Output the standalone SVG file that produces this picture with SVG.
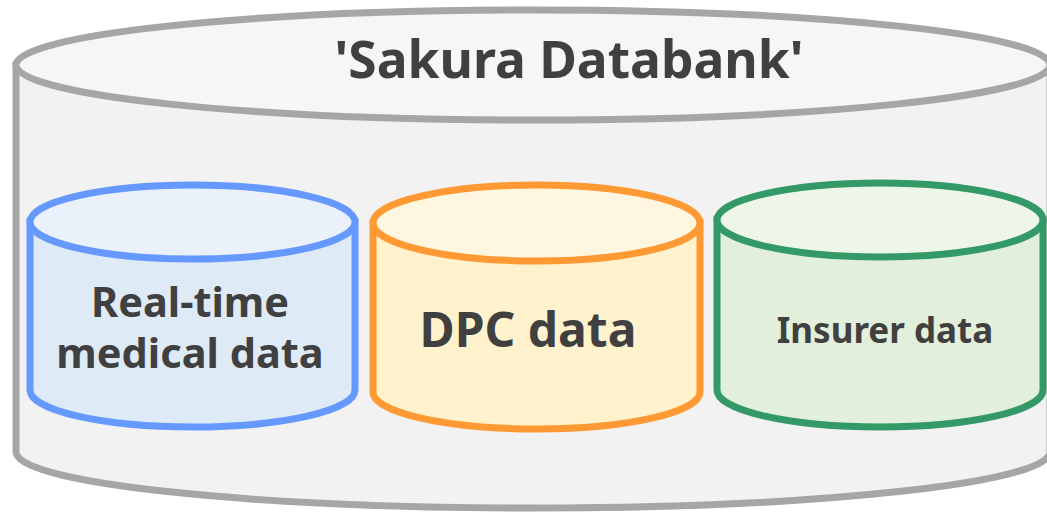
<svg xmlns="http://www.w3.org/2000/svg" width="1047" height="512" viewBox="0 0 1047 512">
<style>
  text { font-family: "Noto Sans", "Liberation Sans", sans-serif; font-weight: bold; fill: #404040; text-anchor: middle; }
  .big { stroke: #a6a6a6; stroke-width: 7; }
  .db { stroke-width: 7; }
  .blue { stroke: #6699ff; }
  .orange { stroke: #ff9933; }
  .green { stroke: #339966; }
</style>
<rect width="1047" height="512" fill="#ffffff"/>
<g id="sakura-databank">
  <path class="big" fill="#f2f2f2" d="M16,65 L16,452 A517,56 0 0 0 1050,452 L1050,65 Z"/>
  <ellipse class="big" cx="533" cy="65" rx="517" ry="55" fill="#f6f6f6"/>
  <text x="569" y="78" font-size="51.5">'Sakura Databank'</text>
</g>
<g id="realtime-medical-data">
  <path class="db blue" fill="#deeaf6" d="M30,222 L30,390 A162.5,37 0 0 0 355,390 L355,222 Z"/>
  <ellipse class="db blue" cx="192.5" cy="222" rx="162.5" ry="37" fill="#eaf1fa"/>
  <text x="190" y="317" font-size="41.5">Real-time</text>
  <text x="190" y="368" font-size="41.5">medical data</text>
</g>
<g id="dpc-data">
  <path class="db orange" fill="#fff2cc" d="M373,223 L373,392 A163.5,37 0 0 0 700,392 L700,223 Z"/>
  <ellipse class="db orange" cx="536.5" cy="223" rx="163.5" ry="38" fill="#fff6e0"/>
  <text x="528" y="347" font-size="48">DPC data</text>
</g>
<g id="insurer-data">
  <path class="db green" fill="#e2efda" d="M717,220 L717,390 A163,37 0 0 0 1043,390 L1043,220 Z"/>
  <ellipse class="db green" cx="880" cy="220" rx="163" ry="37" fill="#eef6e9"/>
  <text x="885" y="343" font-size="35">Insurer data</text>
</g>
<g id="connectors"/>
</svg>
